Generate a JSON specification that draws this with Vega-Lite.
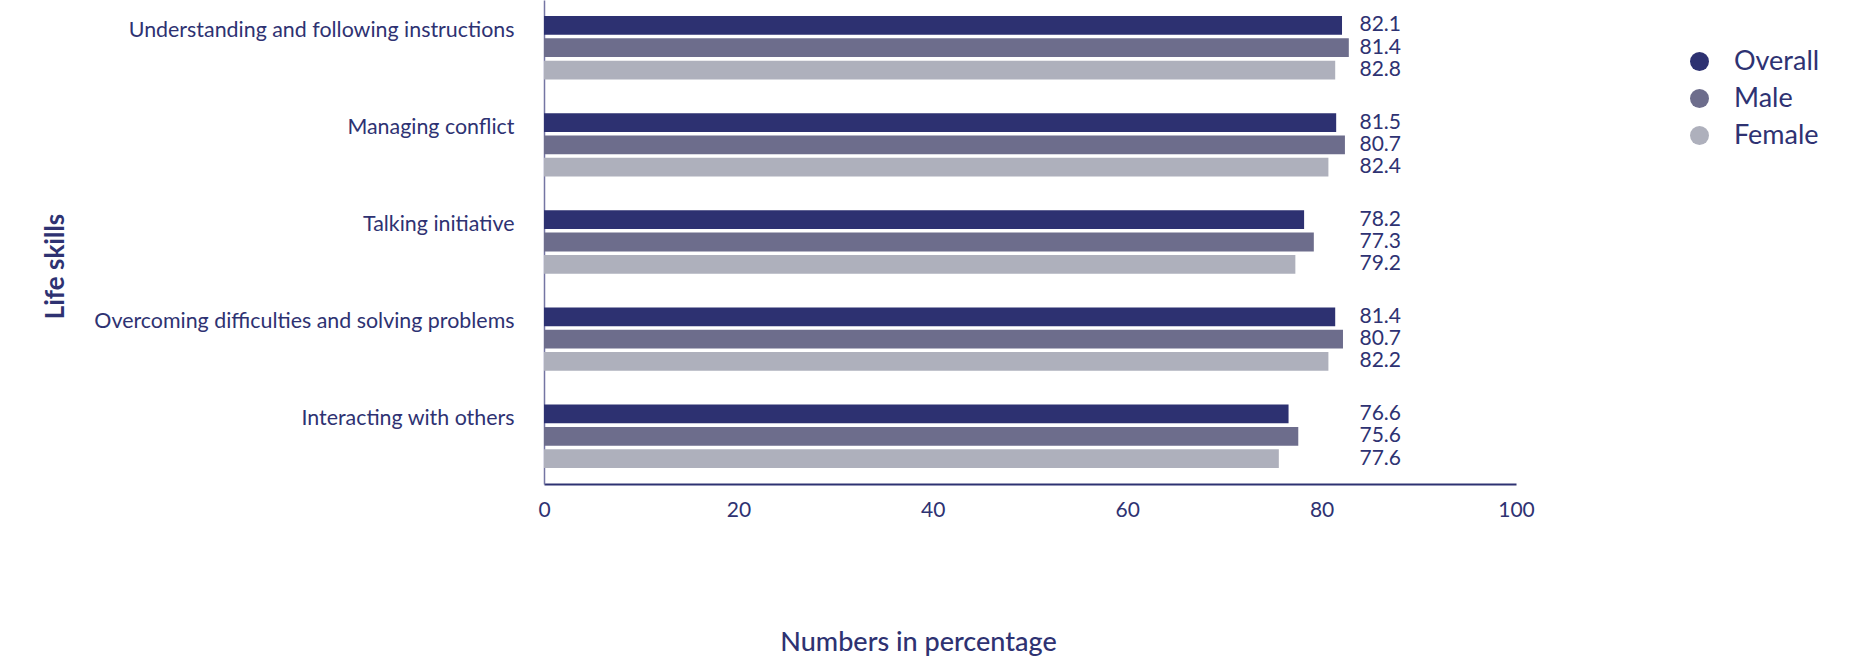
{
  "$schema": "https://vega.github.io/schema/vega-lite/v6.json",
  "width": 972,
  "height": 484,
  "autosize": {"type": "none"},
  "padding": {"left": 544, "top": 0, "right": 349, "bottom": 175},
  "background": "white",
  "config": {"view": {"stroke": null}, "font": "Lato", "text": {"font": "Lato"}},
  "data": {
    "values": [
      {"skill": "Understanding and following instructions", "group": "Overall", "value": 82.1, "label": "82.1"},
      {"skill": "Understanding and following instructions", "group": "Male", "value": 82.8, "label": "81.4"},
      {"skill": "Understanding and following instructions", "group": "Female", "value": 81.4, "label": "82.8"},
      {"skill": "Managing conflict", "group": "Overall", "value": 81.5, "label": "81.5"},
      {"skill": "Managing conflict", "group": "Male", "value": 82.4, "label": "80.7"},
      {"skill": "Managing conflict", "group": "Female", "value": 80.7, "label": "82.4"},
      {"skill": "Talking initiative", "group": "Overall", "value": 78.2, "label": "78.2"},
      {"skill": "Talking initiative", "group": "Male", "value": 79.2, "label": "77.3"},
      {"skill": "Talking initiative", "group": "Female", "value": 77.3, "label": "79.2"},
      {"skill": "Overcoming difficulties and solving problems", "group": "Overall", "value": 81.4, "label": "81.4"},
      {"skill": "Overcoming difficulties and solving problems", "group": "Male", "value": 82.2, "label": "80.7"},
      {"skill": "Overcoming difficulties and solving problems", "group": "Female", "value": 80.7, "label": "82.2"},
      {"skill": "Interacting with others", "group": "Overall", "value": 76.6, "label": "76.6"},
      {"skill": "Interacting with others", "group": "Male", "value": 77.6, "label": "75.6"},
      {"skill": "Interacting with others", "group": "Female", "value": 75.6, "label": "77.6"}
    ]
  },
  "encoding": {
    "y": {
      "field": "skill",
      "type": "nominal",
      "sort": ["Understanding and following instructions", "Managing conflict", "Talking initiative", "Overcoming difficulties and solving problems", "Interacting with others"],
      "scale": {"paddingInner": 0.347, "paddingOuter": 0.165},
      "axis": {
        "title": "Life skills",
        "titleFont": "Lato",
        "titleFontSize": 26,
        "titleFontWeight": "bold",
        "titleColor": "#2E3272",
        "titleX": -489,
        "titleY": 266,
        "titleAngle": 270,
        "titleAlign": "center",
        "titleBaseline": "middle",
        "labelFont": "Lato",
        "labelFontSize": 21.4,
        "labelColor": "#2E3272",
        "labelPadding": 30,
        "labelOffset": -17,
        "labelLimit": 700,
        "ticks": false,
        "tickSize": 0,
        "grid": false,
        "domainColor": "#7475A3",
        "domainWidth": 1.5
      }
    },
    "yOffset": {
      "field": "group",
      "type": "nominal",
      "sort": ["Overall", "Male", "Female"],
      "scale": {"paddingInner": 0.16, "paddingOuter": 0}
    }
  },
  "layer": [
    {
      "mark": {"type": "bar"},
      "encoding": {
        "x": {
          "field": "value",
          "type": "quantitative",
          "scale": {"domain": [0, 100]},
          "axis": {
            "title": "Numbers in percentage",
            "titleFont": "Lato",
            "titleFontSize": 27,
            "titleFontWeight": 500,
            "titleColor": "#2E3272",
            "titleX": 374,
            "titleY": 158,
            "titleAlign": "center",
            "titleBaseline": "middle",
            "values": [0, 20, 40, 60, 80, 100],
            "labelFont": "Lato",
            "labelFontSize": 21,
            "labelColor": "#2E3272",
            "labelPadding": 15,
            "labelFlush": false,
            "ticks": false,
            "tickSize": 0,
            "grid": false,
            "domainColor": "#2E3272",
            "domainWidth": 2
          }
        },
        "color": {
          "field": "group",
          "type": "nominal",
          "sort": ["Overall", "Male", "Female"],
          "scale": {"domain": ["Overall", "Male", "Female"], "range": ["#2D3171", "#6D6D8C", "#AEB0BC"]},
          "legend": {
            "title": null,
            "orient": "none",
            "legendX": 1142,
            "legendY": 48,
            "padding": 0,
            "symbolType": "circle",
            "symbolSize": 360,
            "symbolStrokeWidth": 0,
            "labelFont": "Lato",
            "labelFontSize": 27,
            "labelColor": "#2E3272",
            "labelOffset": 21,
            "rowPadding": 9
          }
        }
      }
    },
    {
      "mark": {"type": "text", "align": "left", "baseline": "middle", "font": "Lato", "fontSize": 21, "color": "#2E3272"},
      "encoding": {
        "x": {"datum": 83.9},
        "text": {"field": "label"}
      }
    }
  ]
}
